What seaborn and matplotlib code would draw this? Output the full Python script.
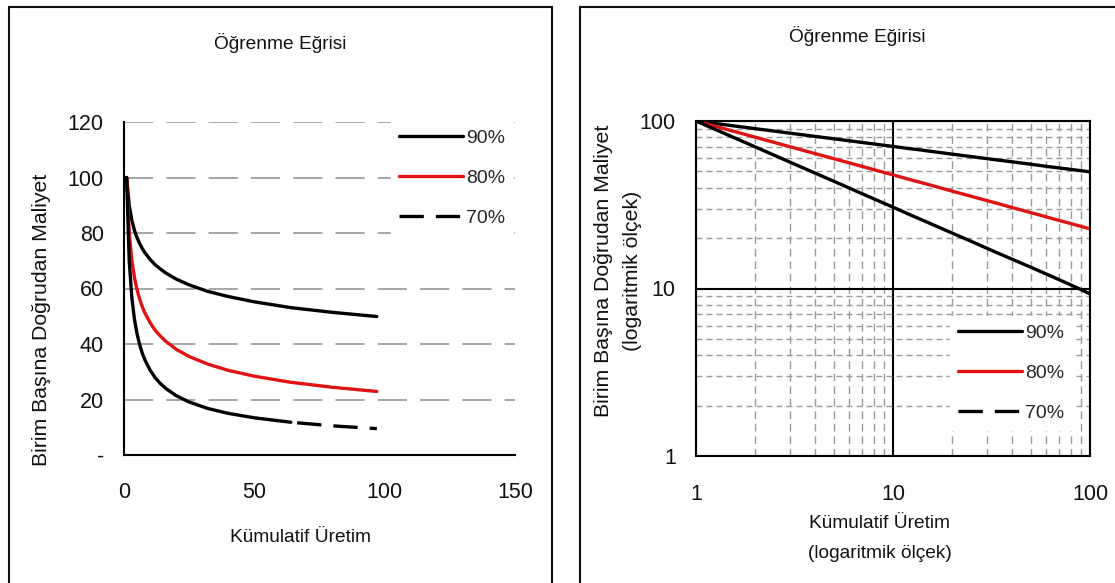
import matplotlib
matplotlib.use("Agg")
import matplotlib.pyplot as plt
import seaborn as sns
import pandas as pd
from matplotlib.patches import Rectangle
from matplotlib.lines import Line2D
from matplotlib.ticker import FixedLocator, FixedFormatter, NullFormatter, LogLocator

# ---------------- data ----------------
units_lin = [1, 2, 3, 4, 5, 6, 7, 8, 10, 12, 14, 16, 20, 25, 32, 40, 50, 64, 80, 97]
cost90_lin = [100, 90.0, 84.6, 81.0, 78.3, 76.2, 74.4, 72.9, 70.5, 68.5, 67.0, 65.6, 63.4, 61.3, 59.0, 57.1, 55.2, 53.1, 51.4, 49.9]
cost80_lin = [100, 80.0, 70.2, 64.0, 59.6, 56.2, 53.5, 51.2, 47.7, 44.9, 42.8, 41.0, 38.1, 35.5, 32.8, 30.5, 28.4, 26.2, 24.4, 22.9]
cost70_lin = [100, 70.0, 56.8, 49.0, 43.7, 39.8, 36.7, 34.3, 30.6, 27.8, 25.7, 24.0, 21.4, 19.1, 16.8, 15.0, 13.4, 11.8, 10.5, 9.5]

units_log = [1, 2, 3, 4, 5, 6, 7, 8, 10, 12, 14, 16, 20, 25, 32, 40, 50, 64, 80, 100]
cost90_log = [100, 90.0, 84.6, 81.0, 78.3, 76.2, 74.4, 72.9, 70.5, 68.5, 67.0, 65.6, 63.4, 61.3, 59.0, 57.1, 55.2, 53.1, 51.4, 49.7]
cost80_log = [100, 80.0, 70.2, 64.0, 59.6, 56.2, 53.5, 51.2, 47.7, 44.9, 42.8, 41.0, 38.1, 35.5, 32.8, 30.5, 28.4, 26.2, 24.4, 22.7]
cost70_log = [100, 70.0, 56.8, 49.0, 43.7, 39.8, 36.7, 34.3, 30.6, 27.8, 25.7, 24.0, 21.4, 19.1, 16.8, 15.0, 13.4, 11.8, 10.5, 9.3]

series_labels = ["90%", "80%", "70%"]
x_ticks_lin = [0, 50, 100, 150]
y_ticks_lin = [0, 20, 40, 60, 80, 100, 120]
y_ticklabels_lin = ["-", "20", "40", "60", "80", "100", "120"]
log_ticks = [1, 10, 100]
log_ticklabels = ["1", "10", "100"]

title_left = "Öğrenme Eğrisi"
title_right = "Öğrenme Eğirisi"
xlabel_main = "Kümulatif Üretim"
ylabel_main = "Birim Başına Doğrudan Maliyet"
log_note = "(logaritmik ölçek)"

# ---------------- style ----------------
sns.set_theme(style="white")
plt.rcParams["font.family"] = ["Liberation Sans", "DejaVu Sans"]

W, H = 1115, 583
fig = plt.figure(figsize=(W / 100, H / 100), dpi=100)
fig.patch.set_facecolor("white")

def fx(px):
    return px / W

def fy(py):
    return 1 - py / H

colors = {"90%": "black", "80%": "#e01212", "70%": "black"}
LW = 2.4
DASH = (7.3, 3.6)

def long_df(units, c90, c80, c70):
    frames = []
    for lab, vals in zip(series_labels, [c90, c80, c70]):
        frames.append(pd.DataFrame({"units": units, "cost": vals, "rate": lab}))
    return pd.concat(frames, ignore_index=True)

df_lin = long_df(units_lin, cost90_lin, cost80_lin, cost70_lin)
df_log = long_df(units_log, cost90_log, cost80_log, cost70_log)

# panel frames
fig.add_artist(Rectangle((fx(9), -0.05), fx(552 - 9), fy(7) + 0.05, transform=fig.transFigure,
                         fill=False, edgecolor="#111111", lw=1.5))
fig.add_artist(Rectangle((fx(580), -0.05), 0.6, fy(7) + 0.05, transform=fig.transFigure,
                         fill=False, edgecolor="#111111", lw=1.5))

# ---------------- left panel (linear) ----------------
ax1 = fig.add_axes([fx(124), fy(455), fx(515 - 124), (455 - 122) / H])
ax1.set_axisbelow(True)
for lab in ["90%", "80%"]:
    sub = df_lin[df_lin["rate"] == lab]
    sns.lineplot(data=sub, x="units", y="cost", ax=ax1, color=colors[lab], lw=LW,
                 estimator=None, sort=False, legend=False)
sub70 = df_lin[df_lin["rate"] == "70%"]
sns.lineplot(data=sub70[sub70["units"] <= 64], x="units", y="cost", ax=ax1, color="black",
             lw=LW, estimator=None, sort=False, legend=False)
sns.lineplot(data=sub70[sub70["units"] >= 64], x="units", y="cost", ax=ax1, color="black",
             lw=LW, estimator=None, sort=False, legend=False)
ax1.lines[-1].set_linestyle((9.0, DASH))

ax1.set_xlim(0, 150)
ax1.set_ylim(0, 120)
ax1.set_xticks(x_ticks_lin)
ax1.set_xticklabels([str(t) for t in x_ticks_lin])
ax1.set_yticks(y_ticks_lin)
ax1.set_yticklabels(y_ticklabels_lin)
ax1.set_xlabel("")
ax1.set_ylabel("")
for s in ["top", "right"]:
    ax1.spines[s].set_visible(False)
for s in ["left", "bottom"]:
    ax1.spines[s].set_color("black")
    ax1.spines[s].set_linewidth(1.5)
ax1.tick_params(axis="both", which="major", direction="out", length=6, width=1.5,
                color="black", labelsize=15.5, labelcolor="#111111")
ax1.tick_params(axis="y", pad=8.5)
ax1.tick_params(axis="x", pad=13.5)
ax1.yaxis.grid(True, color="#a8a8a8", lw=1.45, linestyle=(0, (14.5, 6.5)))
ax1.xaxis.grid(False)

handles = [Line2D([], [], color="black", lw=LW),
           Line2D([], [], color=colors["80%"], lw=LW),
           Line2D([], [], color="black", lw=LW, linestyle=(0, DASH))]
leg_kw = dict(loc="center", bbox_transform=fig.transFigure, frameon=True, fancybox=False,
              facecolor="white", edgecolor="white", framealpha=1, fontsize=14,
              handlelength=3.3, handletextpad=0.15, labelspacing=1.16, borderpad=0.4)
ax1.legend(handles, series_labels, bbox_to_anchor=(fx(452), fy(178)), **leg_kw)

fig.text(fx(280), fy(43), title_left, ha="center", va="center", fontsize=13.8, color="#111111")
fig.text(fx(300), fy(538), xlabel_main, ha="center", va="center", fontsize=13.8, color="#111111")
fig.text(fx(42), fy(320), ylabel_main, ha="center", va="center", rotation=90,
         fontsize=15.3, color="#111111")

# ---------------- right panel (log-log) ----------------
ax2 = fig.add_axes([fx(696), fy(456), fx(1090 - 696), (456 - 121) / H])
ax2.set_axisbelow(True)
ax2.set_xscale("log")
ax2.set_yscale("log")
for lab in series_labels:
    sub = df_log[df_log["rate"] == lab]
    sns.lineplot(data=sub, x="units", y="cost", ax=ax2, color=colors[lab], lw=LW,
                 estimator=None, sort=False, legend=False)
ax2.set_xlim(1, 100)
ax2.set_ylim(1, 100)
for axis in (ax2.xaxis, ax2.yaxis):
    axis.set_major_locator(FixedLocator(log_ticks))
    axis.set_major_formatter(FixedFormatter(log_ticklabels))
    axis.set_minor_locator(LogLocator(base=10, subs=range(2, 10)))
    axis.set_minor_formatter(NullFormatter())
ax2.set_xlabel("")
ax2.set_ylabel("")
for s in ax2.spines.values():
    s.set_visible(True)
    s.set_color("black")
    s.set_linewidth(1.5)
ax2.tick_params(axis="both", which="major", direction="out", length=5.5, width=1.5,
                color="black", labelsize=15.5, labelcolor="#111111")
ax2.tick_params(axis="both", which="minor", length=0)
ax2.tick_params(axis="y", pad=9)
ax2.tick_params(axis="x", pad=15)
ax2.grid(True, which="major", color="black", lw=1.5, linestyle="-")
ax2.xaxis.grid(True, which="minor", color="#9a9a9a", lw=1.0, linestyle=(0, (5.5, 3.5)))
ax2.yaxis.grid(True, which="minor", color="#9a9a9a", lw=1.0, linestyle=(0, (4.3, 2.9)))
ax2.legend(handles, series_labels, bbox_to_anchor=(fx(1011), fy(373)), **leg_kw)

fig.text(fx(857), fy(36), title_right, ha="center", va="center", fontsize=13.8, color="#111111")
fig.text(fx(880), fy(524), xlabel_main, ha="center", va="center", fontsize=13.8, color="#111111")
fig.text(fx(880), fy(554), log_note, ha="center", va="center", fontsize=13.8, color="#111111")
fig.text(fx(603), fy(271), ylabel_main, ha="center", va="center", rotation=90,
         fontsize=15.3, color="#111111")
fig.text(fx(633), fy(271), log_note, ha="center", va="center", rotation=90,
         fontsize=15.3, color="#111111")

fig.savefig("out.png", dpi=100, facecolor="white")
